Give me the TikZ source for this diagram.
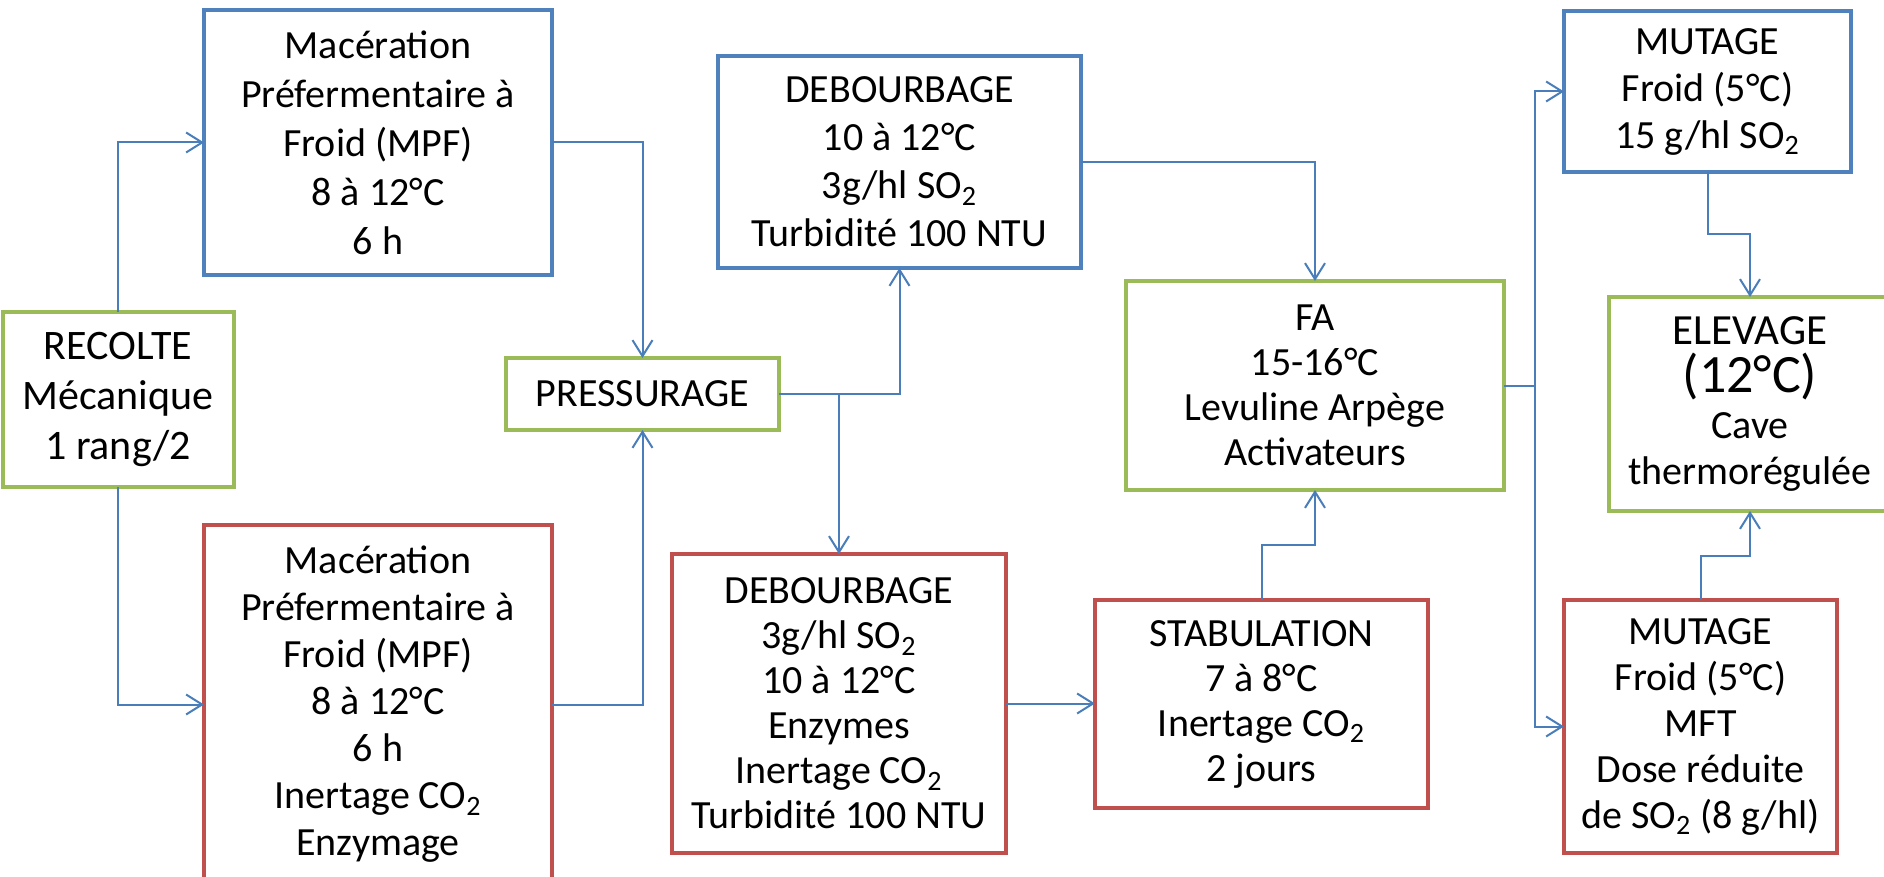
\documentclass[tikz,border=0pt]{standalone}
\usepackage{fontspec}
\setmainfont{Carlito}
\usetikzlibrary{arrows.meta,calc}
\definecolor{bblue}{HTML}{4F81BD}
\definecolor{bgreen}{HTML}{9BBB59}
\definecolor{bred}{HTML}{C0504D}
\definecolor{cblue}{HTML}{4A7EBB}
\begin{document}
\begin{tikzpicture}[x=0.5pt,y=-0.5pt,
  box/.style={draw, line width=2pt, align=center, inner sep=0pt, outer sep=0pt,
    font=\fontsize{20}{23.5}\selectfont, fill=white},
  sz/.style 2 args={minimum width=#1*0.5pt, minimum height=#2*0.5pt},
  bluebox/.style={box, draw=bblue},
  greenbox/.style={box, draw=bgreen},
  redbox/.style={box, draw=bred},
  conn/.style={draw=cblue, line width=1pt},
  arr/.style={conn, -{Straight Barb[length=8pt,width=10pt]}}]
\useasboundingbox (0,0) rectangle (1884,877);
\clip (0,0) rectangle (1884,877);
\fill[white] (0,0) rectangle (1884,877);

\node[greenbox, sz={231}{175}, font=\fontsize{21}{25}\selectfont] (rec) at (118,399.5) {RECOLTE\\Mécanique\\1 rang/2};
\node[bluebox, sz={348}{265}, font=\fontsize{20}{24.5}\selectfont] (mpfb) at (378,142.5) {Macération\\Préfermentaire à\\Froid (MPF)\\8 à 12°C\\6 h};
\node[redbox, sz={348}{359}] (mpfr) at (378,704.5) {Macération\\Préfermentaire à\\Froid (MPF)\\8 à 12°C\\6 h\\Inertage CO\textsubscript{2}\\Enzymage};
\node[greenbox, sz={273}{72}] (press) at (642.5,394) {PRESSURAGE};
\node[bluebox, sz={363}{212}, font=\fontsize{20}{24}\selectfont] (debb) at (899.5,162) {DEBOURBAGE\\10 à 12°C\\3g/hl SO\textsubscript{2}\\Turbidité 100 NTU};
\node[redbox, sz={334}{299}, font=\fontsize{20}{22.5}\selectfont] (debr) at (839,703.5) {DEBOURBAGE\\3g/hl SO\textsubscript{2}\\10 à 12°C\\Enzymes\\Inertage CO\textsubscript{2}\\Turbidité 100 NTU};
\node[redbox, sz={333}{208}, font=\fontsize{20}{22.5}\selectfont] (stab) at (1261.5,704) {STABULATION\\7 à 8°C\\Inertage CO\textsubscript{2}\\2 jours};
\node[greenbox, sz={378}{209}, font=\fontsize{20}{22.5}\selectfont] (fa) at (1315,385.5) {FA\\15-16°C\\Levuline Arpège\\Activateurs};
\node[bluebox, sz={287}{161}] (mutb) at (1707.5,91.5) {MUTAGE\\Froid (5°C)\\15 g/hl SO\textsubscript{2}};
\node[greenbox, sz={282}{214}, font=\fontsize{20}{23}\selectfont] (elev) at (1750,404) {{\fontsize{21.5}{24}\selectfont ELEVAGE}\\[1pt]{\fontsize{27}{28}\selectfont (12°C)}\\Cave\\thermorégulée};
\node[redbox, sz={273}{253}, font=\fontsize{20}{23}\selectfont] (mutr) at (1700.5,726.5) {MUTAGE\\Froid (5°C)\\MFT\\Dose réduite\\de SO\textsubscript{2} (8 g/hl)};

\draw[arr] (rec.north) |- (mpfb.west);
\draw[arr] (rec.south) |- (mpfr.west);
\draw[arr] (mpfb.east) -| (press.north);
\draw[arr] (mpfr.east) -| (press.south);
\draw[arr] (press.east) -| (debb.south);
\draw[arr] (press.east -| debr.north) -- (debr.north);
\draw[arr] (debb.east) -| (fa.north);
\draw[arr] (debr.east) -- (debr.east -| stab.west);
\draw[arr] (stab.north) |- ($(stab.north)!.5!(fa.south)$) -| (fa.south);
\coordinate (jn) at ($(fa.east)+(31,0)$);
\draw[conn] (fa.east) -- (jn);
\draw[arr] (jn) |- (mutb.west);
\draw[arr] (jn) |- (mutr.west);
\draw[arr] (mutb.south) |- ($(mutb.south)!.5!(elev.north)$) -| (elev.north);
\draw[arr] (mutr.north) |- ($(mutr.north)!.5!(elev.south)$) -| (elev.south);
\end{tikzpicture}
\end{document}
